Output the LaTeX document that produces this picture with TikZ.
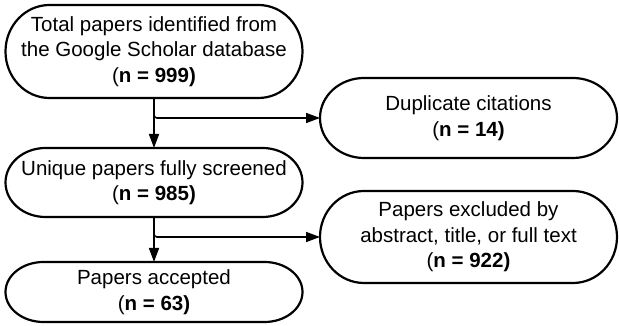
\documentclass[tikz,border=0pt]{standalone}
\usepackage{fontspec}
\setmainfont{Liberation Sans}
\usetikzlibrary{arrows.meta,calc}

\tikzset{
  box/.style={minimum width=297pt, inner sep=0pt, outer sep=0pt, align=center,
              font=\fontsize{20.5}{25.5}\selectfont},
  outline/.style={line width=2.2pt},
  link/.style={line width=1.6pt, -{Triangle[length=14pt,width=10pt]}},
}

% terminator outline around a named node: flat top/bottom, elliptic ends
\newcommand\terminal[2]{%
  \draw[outline] let \p1=(#1.north), \p2=(#1.south), \n1={0.5*(\y1-\y2)} in
    ([xshift=#2]#1.north west) -- ([xshift=-#2]#1.north east)
    arc[start angle=90, end angle=-90, x radius=#2, y radius=\n1]
    -- ([xshift=#2]#1.south west)
    arc[start angle=270, end angle=90, x radius=#2, y radius=\n1] -- cycle;}

\begin{document}
\begin{tikzpicture}[x=1pt, y=1pt]
  \useasboundingbox (0,0) rectangle (619,326);

  \node[box, minimum height=93pt] (total) at (154,274.5)
    {Total papers identified from\\the Google Scholar database\\(\textbf{n = 999)}};
  \node[box, minimum height=80pt] (dup) at (468.5,208)
    {Duplicate citations\\(\textbf{n = 14)}};
  \node[box, minimum height=69pt] (unique) at (154,143.5)
    {Unique papers fully screened\\(\textbf{n = 985)}};
  \node[box, minimum height=92pt] (excl) at (468.5,89)
    {Papers excluded by\\abstract, title, or full text\\(\textbf{n = 922)}};
  \node[box, minimum height=60pt] (acc) at (154,34)
    {Papers accepted\\(\textbf{n = 63)}};

  \terminal{total}{44pt}
  \terminal{dup}{44pt}
  \terminal{unique}{40pt}
  \terminal{excl}{44pt}
  \terminal{acc}{38pt}

  \draw[link] (total.south) -- (unique.north);
  \draw[link, rounded corners=3pt] (total.south) |- (dup.west);
  \draw[link] (unique.south) -- (acc.north);
  \draw[link, rounded corners=3pt] (unique.south) |- (excl.west);
\end{tikzpicture}
\end{document}
